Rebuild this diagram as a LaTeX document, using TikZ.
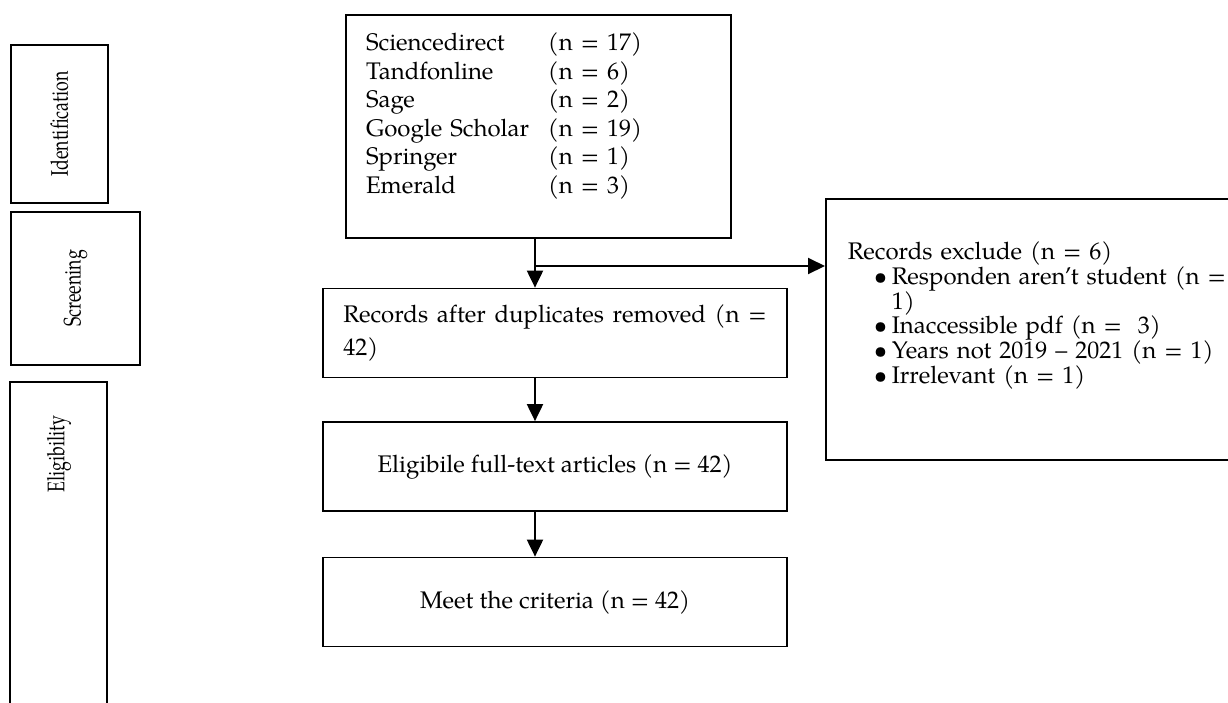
\documentclass[tikz,border=0pt]{standalone}
\usepackage{fontspec}
\setmainfont{TeX Gyre Pagella}
\usepackage{graphicx}
\usetikzlibrary{arrows.meta,positioning}
\tikzset{%
	phase/.style  = {draw, line width=0.7pt, rectangle, rotate=90}, % stage label
	block/.style  = {draw, line width=0.7pt, rectangle, minimum width=185.6pt, minimum height=35.6pt, inner sep=0pt, text centered},
	arrow/.style  = {line width=0.8pt, -{Triangle[width=6.4pt,length=6.8pt]}},
}
\newcommand{\stagetext}[1]{\scalebox{0.74}[1]{#1}}
\newcommand{\bulletitem}{\hspace*{10.4pt}\makebox[7.2pt][l]{\textbullet}}

\begin{document}
\begin{tikzpicture}[x=0.4pt,y=-0.4pt,font=\fontsize{9.6pt}{11.4pt}\selectfont]
	\useasboundingbox (0,0) rectangle (1228,702);
	
	% stages
	\node[phase, minimum width=63.2pt, minimum height=38.8pt] (ident) at (59.5,124) {\stagetext{Identification}};
	\node[phase, minimum width=61.2pt, minimum height=51.6pt] (screen) at (75.5,288.5) {\stagetext{Screening}};
	\draw[line width=0.7pt] (10,382) rectangle (107,730);
	\node[rotate=90] (elig) at (59,454) {\stagetext{Eligibility}};
	
	% flow
	\node[draw, line width=0.7pt, minimum height=89.2pt, text width=138pt, inner xsep=8pt, inner ysep=0pt, align=left] (sources) at (538.5,126.5) {%
		\begin{tabular}{@{}p{72.8pt}@{}l@{}}
			Sciencedirect & (n = 17)\\
			Tandfonline & (n = 6)\\
			Sage & (n = 2)\\
			Google Scholar & (n = 19)\\
			Springer & (n = 1)\\
			Emerald & (n = 3)\\[8pt]
		\end{tabular}};
	\node[block, text width=169.2pt, align=justify, font=\fontsize{9.6pt}{13.2pt}\selectfont] (records) at (555,333) {Records after duplicates removed (n =\linebreak 42)};
	\node[block] (eligible) at (555,466.5) {Eligibile full-text articles (n = 42)};
	\node[block] (meet) at (555,602) {Meet the criteria (n = 42)};
	\node[draw, line width=0.7pt, anchor=north west, minimum width=168pt, minimum height=104.4pt, text width=152.4pt, inner xsep=8.8pt, align=left, font=\fontsize{9.6pt}{9.9pt}\selectfont] (exclude) at (825,198) {%
		Records exclude (n = 6)\\
		\bulletitem Responden aren’t student (n =\\
		\hspace*{17.6pt}1)\\
		\bulletitem Inaccessible pdf (n =\ \ 3)\\
		\bulletitem Years not 2019 -- 2021 (n = 1)\\
		\bulletitem Irrelevant (n = 1)\par\vspace{11.2pt}\hrule height 0pt};
	
	\coordinate (spine) at (535,266);
	\draw[arrow] (sources.south -| spine) -- (records.north -| spine);
	\draw[arrow] (spine) -- (spine -| exclude.west);
	\draw[arrow] (records.south -| spine) -- (eligible.north -| spine);
	\draw[arrow] (eligible.south -| spine) -- (meet.north -| spine);
	
\end{tikzpicture}
\end{document}
